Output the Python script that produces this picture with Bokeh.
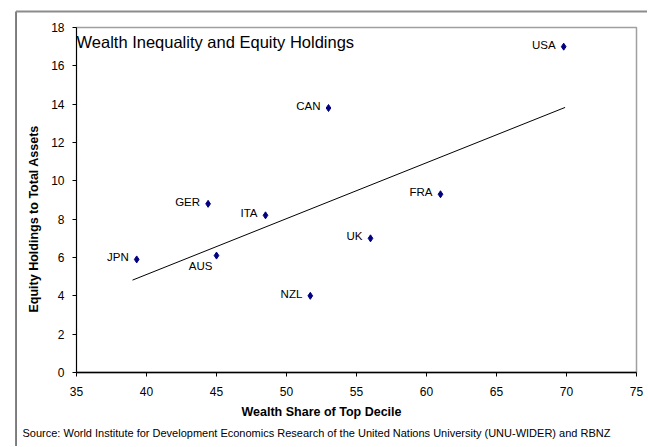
from bokeh.plotting import figure
from bokeh.models import Range1d, FixedTicker, Label, Title, ColumnDataSource, BoxAnnotation
from bokeh.core.properties import value
from bokeh.embed import file_html
from bokeh.resources import INLINE

# ---- data ----
countries = ["USA", "CAN", "FRA", "GER", "ITA", "UK", "AUS", "JPN", "NZL"]
wealth_share = [69.8, 53.0, 61.0, 44.4, 48.5, 56.0, 45.0, 39.3, 51.7]
equity_ratio = [17.0, 13.8, 9.3, 8.8, 8.2, 7.0, 6.1, 5.9, 4.0]
trend_x = [39.0, 69.9]
trend_y = [4.82, 13.83]
x_ticks = [35, 40, 45, 50, 55, 60, 65, 70, 75]
y_ticks = [0, 2, 4, 6, 8, 10, 12, 14, 16, 18]

title_text = "Wealth Inequality and Equity Holdings"
x_title = "Wealth Share of Top Decile"
y_title = "Equity Holdings to Total Assets"
source_text = ("Source: World Institute for Development Economics Research of the "
               "United Nations University (UNU-WIDER) and RBNZ")

# label placement (screen px): most labels to the left, AUS below-left
label_dx = [-8, -8, -8, -8, -8, -8, -4, -8, -8]
label_dy = [-2, -2, -2, -2, -2, -2, 10, -2, -2]

FONT = "Liberation Sans"

p = figure(
    x_range=Range1d(x_ticks[0], x_ticks[-1]),
    y_range=Range1d(y_ticks[0], y_ticks[-1]),
    frame_width=560, frame_height=345,
    min_border_left=76, min_border_right=11,
    min_border_top=27, min_border_bottom=74,
    output_backend="svg", toolbar_location=None,
    background_fill_color="white", border_fill_color=None,
)

p.grid.visible = False
p.outline_line_color = "#a0a0a0"
p.outline_line_width = 1.5

for ax, ticks in ((p.xaxis[0], x_ticks), (p.yaxis[0], y_ticks)):
    ax.ticker = FixedTicker(ticks=ticks)
    ax.minor_tick_line_color = None
    ax.major_tick_in = 0
    ax.major_tick_out = 4
    ax.major_tick_line_color = "black"
    ax.axis_line_color = "black"
    ax.major_label_text_font = FONT
    ax.major_label_text_font_size = "12px"
    ax.major_label_text_color = "black"
p.xaxis[0].axis_line_width = 1.5
p.xaxis[0].major_label_standoff = 10
p.yaxis[0].major_label_standoff = 8

# outer chart-area frame (left + top edges)
p.line([30.68, 30.68], [-4.5, 18.835], line_color="black", line_width=1, level="overlay")
p.line([30.68, 76.5], [18.835, 18.835], line_color="#8c8c8c", line_width=2, level="overlay")
p.add_layout(BoxAnnotation(left=30.643, right=30.714, bottom=-4.5, top=18.835,
                           fill_color="black", fill_alpha=1.0, line_color=None,
                           level="overlay"))

src = ColumnDataSource(dict(x=wealth_share, y=equity_ratio, name=countries,
                            dx=label_dx, dy=label_dy))

p.line(trend_x, trend_y, line_color="black", line_width=1)
p.scatter("x", "y", source=src, marker="diamond", size=7,
          fill_color="#000080", line_color="#000080")
p.text("x", "y", text="name", source=src, x_offset="dx", y_offset="dy",
       text_align="right", text_baseline="middle",
       text_font=value(FONT), text_font_size="11.5px", text_color="black")

p.add_layout(Label(x=35.0, y=17.22, text=title_text, text_font=FONT,
                   text_font_size="16.5px", text_align="left", text_baseline="middle",
                   text_color="black"))

p.add_layout(Title(text=x_title, text_font=FONT, text_font_size="12.5px",
                   text_font_style="bold", text_color="black",
                   align="left", offset=165, standoff=8), "below")
p.add_layout(Title(text=source_text, text_font=FONT, text_font_size="11px",
                   text_font_style="normal", text_color="black",
                   align="left", offset=-54, standoff=5), "below")
p.add_layout(Title(text=y_title, text_font=FONT, text_font_size="12.5px",
                   text_font_style="bold", text_color="black",
                   align="left", offset=60, standoff=16), "left")

open("out.html", "w").write(file_html(p, INLINE))
